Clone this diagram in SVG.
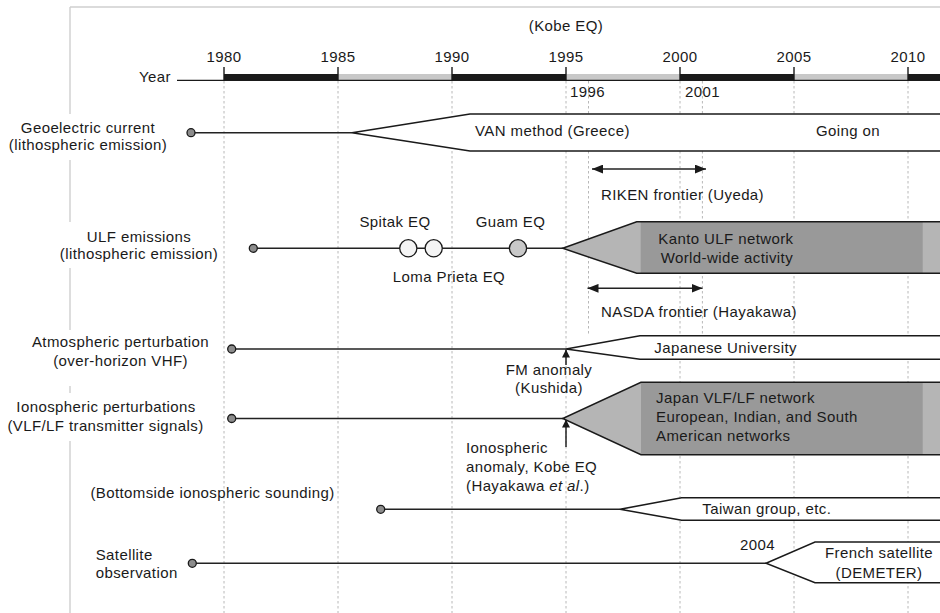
<svg xmlns="http://www.w3.org/2000/svg" width="940" height="613" viewBox="0 0 940 613">
<defs>
<style>
.t{font-family:"Liberation Sans",Arial,Helvetica,sans-serif;font-size:15px;letter-spacing:0.4px;fill:#1a1a1a}
.m{text-anchor:middle}
.e{text-anchor:end}
.frame{stroke:#cfcfcf;stroke-width:1.4;fill:none}
.grid{stroke:#b8b8b8;stroke-width:1;stroke-dasharray:2.5 2.5;fill:none}
.ln{stroke:#222;stroke-width:1.5;fill:none}
.box{stroke:#1a1a1a;stroke-width:1.5;fill:#fff}
.out{stroke:#1a1a1a;stroke-width:1.5;fill:none}
.dot{fill:#8c8c8c;stroke:#1a1a1a;stroke-width:1.3}
.eq{stroke:#1a1a1a;stroke-width:1.3}
.tick{stroke:#1a1a1a;stroke-width:1.4}
</style>
<marker id="ah" viewBox="0 0 10 8" refX="10" refY="4" markerWidth="11" markerHeight="9" markerUnits="userSpaceOnUse" orient="auto-start-reverse"><path d="M0,0 L10,4 L0,8 z" fill="#1a1a1a"/></marker>
<marker id="ahs" viewBox="0 0 8 8" refX="8" refY="4" markerWidth="8" markerHeight="8" markerUnits="userSpaceOnUse" orient="auto"><path d="M0,0 L8,4 L0,8 z" fill="#1a1a1a"/></marker>
</defs>
<rect width="940" height="613" fill="#fff"/>

<g id="frame">
<path class="frame" d="M70,7 H940 M70,7 V114 M70,160 V222 M70,268 V330 M70,386 V393 M70,441 V613"/>
</g>

<g id="grid">
<path class="grid" d="M224,81 V613 M338,81 V613 M452,81 V613 M566,81 V613 M680,81 V613 M794,81 V613 M908,81 V613 M588.5,81 V336 M702.4,81 V336"/>
</g>

<g id="axis">
<text class="t e" x="171" y="82">Year</text>
<line x1="177" y1="80.3" x2="224" y2="80.3" stroke="#1a1a1a" stroke-width="1.2"/>
<rect x="224" y="74" width="114" height="7" fill="#1a1a1a"/>
<rect x="338" y="74" width="114" height="6" fill="#c8c8c8"/>
<rect x="452" y="74" width="114" height="7" fill="#1a1a1a"/>
<rect x="566" y="74" width="114" height="6" fill="#c8c8c8"/>
<rect x="680" y="74" width="114" height="7" fill="#1a1a1a"/>
<rect x="794" y="74" width="114" height="6" fill="#c8c8c8"/>
<rect x="908" y="74" width="32" height="7" fill="#1a1a1a"/>
<line x1="224" y1="80.4" x2="940" y2="80.4" stroke="#1a1a1a" stroke-width="1.2"/>
<path class="tick" d="M224,67 V81 M338,67 V81 M452,67 V81 M566,67 V81 M680,67 V81 M794,67 V81 M908,67 V81"/>
<text class="t m" x="224" y="62">1980</text>
<text class="t m" x="338" y="62">1985</text>
<text class="t m" x="452" y="62">1990</text>
<text class="t m" x="566" y="62">1995</text>
<text class="t m" x="680" y="62">2000</text>
<text class="t m" x="794" y="62">2005</text>
<text class="t m" x="908" y="62">2010</text>
<text class="t m" x="566" y="31">(Kobe EQ)</text>
<text class="t" x="570" y="96.5">1996</text>
<text class="t" x="685" y="96.5">2001</text>
</g>

<g id="connectors">
<line class="ln" x1="191" y1="132.7" x2="352" y2="132.7"/>
<line class="ln" x1="253" y1="248.3" x2="563" y2="248.3"/>
<line class="ln" x1="231.7" y1="349" x2="566" y2="349"/>
<line class="ln" x1="231.7" y1="418.5" x2="563" y2="418.5"/>
<line class="ln" x1="380.7" y1="509.3" x2="620" y2="509.3"/>
<line class="ln" x1="192.3" y1="563.3" x2="766" y2="563.3"/>
<line class="ln" x1="592" y1="169" x2="706" y2="169" marker-start="url(#ah)" marker-end="url(#ah)"/>
<line class="ln" x1="587.5" y1="288.3" x2="702.5" y2="288.3" marker-start="url(#ah)" marker-end="url(#ah)"/>
<line class="ln" x1="566" y1="365" x2="566" y2="349.5" marker-end="url(#ahs)"/>
<line class="ln" x1="566" y1="447" x2="566" y2="419.5" marker-end="url(#ahs)"/>
</g>

<g id="geoelectric">
<text class="t m" x="88" y="133">Geoelectric current</text>
<text class="t m" x="88" y="150">(lithospheric emission)</text>
<circle class="dot" cx="191" cy="132.7" r="4"/>
<path class="box" d="M940,114 H470 L352,132.7 L470,151 H940"/>
<text class="t" x="475" y="136">VAN method (Greece)</text>
<text class="t" x="816" y="136">Going on</text>
</g>

<g id="riken">
<text class="t" x="601" y="200">RIKEN frontier (Uyeda)</text>
</g>

<g id="ulf">
<text class="t m" x="139" y="241.5">ULF emissions</text>
<text class="t m" x="139" y="259">(lithospheric emission)</text>
<circle class="dot" cx="253.3" cy="248.3" r="4"/>
<circle class="eq" cx="408.3" cy="248.3" r="8.6" fill="#f4f4f4"/>
<circle class="eq" cx="433.7" cy="248.3" r="8.6" fill="#f4f4f4"/>
<circle class="eq" cx="518" cy="248.3" r="8.6" fill="#c8c8c8"/>
<text class="t m" x="395" y="227.3">Spitak EQ</text>
<text class="t m" x="510.5" y="227.3">Guam EQ</text>
<text class="t m" x="449" y="281.7">Loma Prieta EQ</text>
<path d="M562.7,248.3 L636.7,221.7 H940 V273.3 H636.7 Z" fill="#b5b5b5"/>
<rect x="640.7" y="221.7" width="282" height="51.6" fill="#999"/>
<path class="out" d="M940,221.7 H636.7 L562.7,248.3 L636.7,273.3 H940"/>
<text class="t" x="658.3" y="244">Kanto ULF network</text>
<text class="t" x="660.7" y="262.5">World-wide activity</text>
</g>

<g id="nasda">
<text class="t" x="601" y="317">NASDA frontier (Hayakawa)</text>
</g>

<g id="atmospheric">
<text class="t m" x="120.5" y="347.3">Atmospheric perturbation</text>
<text class="t m" x="120.5" y="366">(over-horizon VHF)</text>
<circle class="dot" cx="231.7" cy="349" r="4"/>
<path class="box" d="M940,335.7 H640 L566,349 L640,359.3 H940"/>
<text class="t" x="654.3" y="353.3">Japanese University</text>
<text class="t m" x="549" y="375">FM anomaly</text>
<text class="t m" x="549" y="393.3">(Kushida)</text>
</g>

<g id="ionospheric">
<text class="t m" x="106" y="411.7">Ionospheric perturbations</text>
<text class="t m" x="105.5" y="430.7">(VLF/LF transmitter signals)</text>
<circle class="dot" cx="231.7" cy="418.5" r="4"/>
<path d="M562.7,418.5 L641,382.3 H940 V454.7 H641 Z" fill="#b5b5b5"/>
<rect x="641" y="382.3" width="281.7" height="72.4" fill="#999"/>
<path class="out" d="M940,382.3 H641 L562.7,418.5 L641,454.7 H940"/>
<text class="t" x="656" y="403.3">Japan VLF/LF network</text>
<text class="t" x="656" y="422.3">European, Indian, and South</text>
<text class="t" x="656" y="440.7">American networks</text>
<text class="t" x="466" y="453.3">Ionospheric</text>
<text class="t" x="466" y="471.7">anomaly, Kobe EQ</text>
<text class="t" x="466" y="490.7">(Hayakawa <tspan font-style="italic">et al</tspan>.)</text>
</g>

<g id="bottomside">
<text class="t m" x="212.5" y="497.7">(Bottomside ionospheric sounding)</text>
<circle class="dot" cx="380.7" cy="509.3" r="4"/>
<path class="box" d="M940,497.7 H681.7 L620,509.3 L681.7,520.3 H940"/>
<text class="t" x="702.3" y="514.3">Taiwan group, etc.</text>
</g>

<g id="satellite">
<text class="t" x="95.7" y="560">Satellite</text>
<text class="t" x="95.7" y="578.3">observation</text>
<circle class="dot" cx="192.3" cy="563.3" r="4"/>
<path class="box" d="M940,542 H815 L766,563.3 L815,582.7 H940"/>
<text class="t m" x="757.5" y="550">2004</text>
<text class="t m" x="879" y="558.3">French satellite</text>
<text class="t m" x="879" y="578.3">(DEMETER)</text>
</g>
</svg>
